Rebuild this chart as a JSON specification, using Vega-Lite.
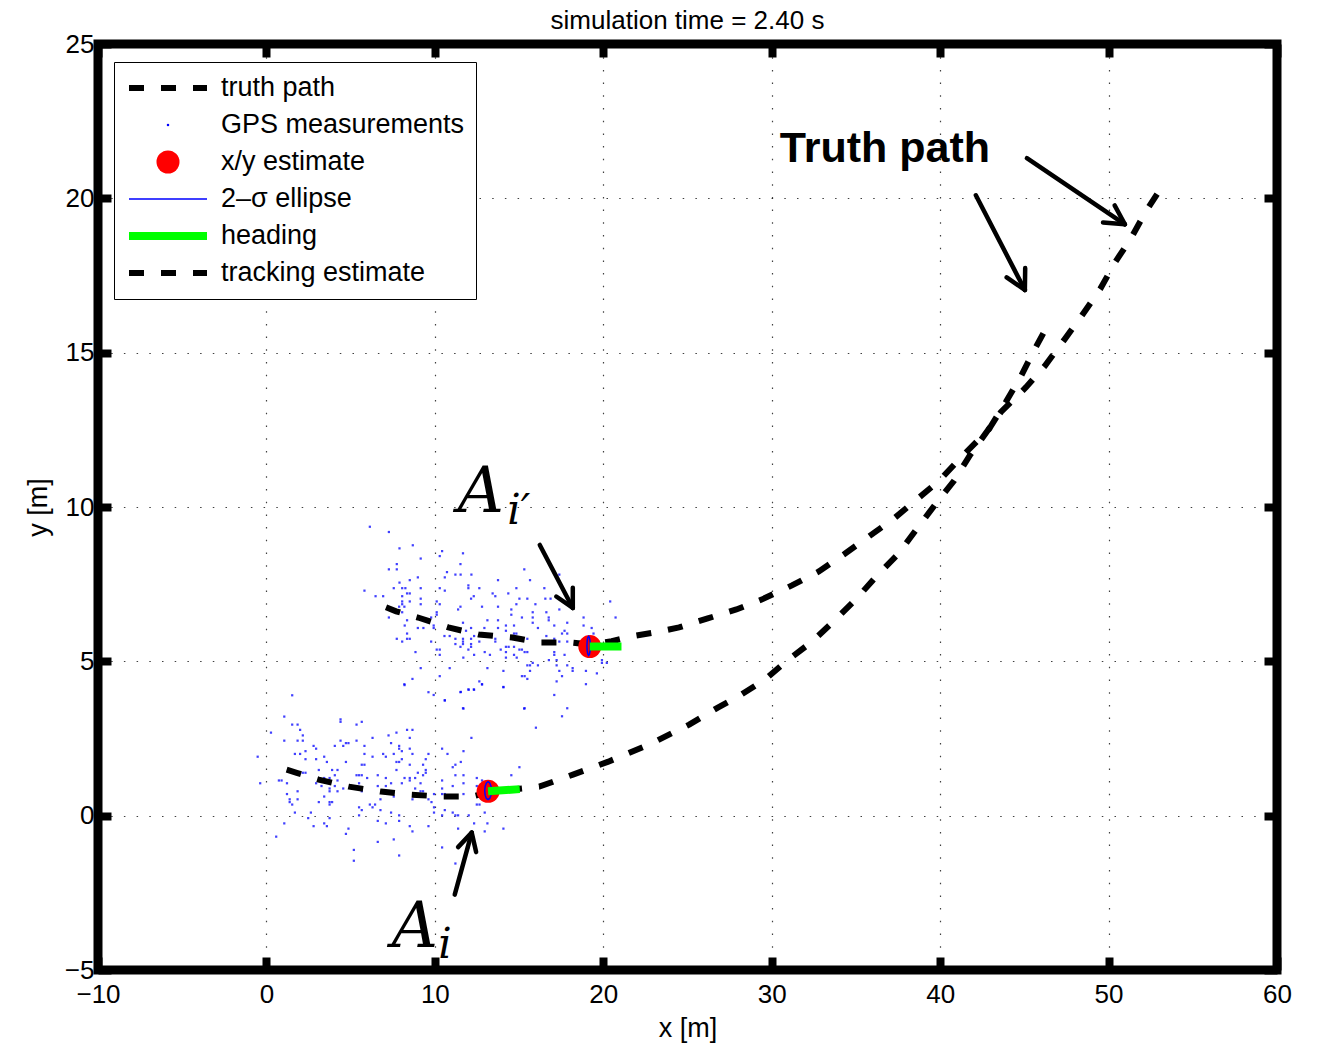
{
  "$schema": "https://vega.github.io/schema/vega-lite/v6.json",
  "autosize": {"type": "none"},
  "padding": {"left": 98, "top": 44, "right": 40, "bottom": 73},
  "width": 1179,
  "height": 926,
  "background": "white",
  "title": {"text": "simulation time = 2.40 s", "font": "Liberation Sans", "fontSize": 26, "fontWeight": "normal", "color": "#000000", "offset": -3, "anchor": "middle"},
  "datasets": {
    "gps": [
      {"x":6.14,"y":9.36},{"x":7.27,"y":9.19},{"x":8.69,"y":8.76},{"x":7.90,"y":8.66},{"x":9.16,"y":8.33},{"x":7.74,"y":8.15},{"x":7.27,"y":7.98},{"x":7.74,"y":7.98},{"x":8.99,"y":7.72},{"x":7.90,"y":7.55},{"x":8.51,"y":7.63},{"x":5.82,"y":7.29},{"x":7.56,"y":7.37},{"x":8.06,"y":7.37},{"x":8.25,"y":7.37},{"x":9.16,"y":7.37},{"x":8.35,"y":7.20},{"x":8.51,"y":7.20},{"x":6.48,"y":7.11},{"x":6.93,"y":7.11},{"x":8.06,"y":7.11},{"x":8.06,"y":6.94},{"x":8.51,"y":6.94},{"x":9.16,"y":7.03},{"x":8.06,"y":6.85},{"x":7.88,"y":6.77},{"x":8.19,"y":6.77},{"x":9.16,"y":6.85},{"x":8.06,"y":6.59},{"x":8.35,"y":6.33},{"x":7.27,"y":6.42},{"x":8.21,"y":6.16},{"x":8.99,"y":6.08},{"x":9.32,"y":6.08},{"x":8.35,"y":5.90},{"x":7.74,"y":5.73},{"x":8.35,"y":5.73},{"x":8.51,"y":5.73},{"x":8.06,"y":5.64},{"x":8.85,"y":5.30},{"x":9.16,"y":4.78},{"x":8.67,"y":4.43},{"x":8.19,"y":4.26},{"x":9.62,"y":4.00},{"x":9.93,"y":3.91},{"x":10.43,"y":8.57},{"x":10.29,"y":8.41},{"x":10.72,"y":7.89},{"x":10.59,"y":7.72},{"x":10.59,"y":7.29},{"x":10.29,"y":7.37},{"x":10.11,"y":6.94},{"x":10.29,"y":6.85},{"x":10.11,"y":6.59},{"x":10.11,"y":6.51},{"x":9.78,"y":6.42},{"x":9.93,"y":6.16},{"x":9.93,"y":6.08},{"x":10.57,"y":5.82},{"x":10.88,"y":5.82},{"x":9.78,"y":5.64},{"x":10.11,"y":5.38},{"x":10.29,"y":5.38},{"x":10.29,"y":5.21},{"x":10.88,"y":4.78},{"x":10.29,"y":4.52},{"x":10.59,"y":3.74},
      {"x":11.67,"y":8.50},{"x":11.52,"y":8.15},{"x":11.22,"y":7.81},{"x":11.53,"y":7.81},{"x":12.17,"y":7.81},{"x":15.31,"y":7.98},{"x":13.75,"y":7.63},{"x":15.65,"y":7.63},{"x":11.99,"y":7.46},{"x":11.99,"y":7.37},{"x":12.64,"y":7.37},{"x":14.84,"y":7.37},{"x":13.43,"y":7.20},{"x":14.36,"y":7.20},{"x":12.31,"y":7.11},{"x":13.59,"y":7.11},{"x":12.15,"y":7.03},{"x":15.02,"y":7.03},{"x":15.49,"y":7.03},{"x":14.84,"y":6.85},{"x":15.97,"y":6.85},{"x":11.52,"y":6.77},{"x":11.38,"y":6.68},{"x":12.80,"y":6.77},{"x":13.75,"y":6.77},{"x":14.54,"y":6.68},{"x":15.81,"y":6.59},{"x":14.54,"y":6.51},{"x":15.17,"y":6.42},{"x":15.81,"y":6.42},{"x":13.12,"y":6.33},{"x":13.75,"y":6.33},{"x":15.81,"y":6.25},{"x":11.67,"y":6.25},{"x":14.22,"y":6.16},{"x":14.70,"y":6.16},{"x":12.15,"y":6.08},{"x":12.94,"y":6.08},{"x":13.75,"y":6.08},{"x":16.12,"y":6.08},{"x":14.22,"y":5.99},{"x":11.85,"y":5.99},{"x":14.70,"y":5.90},{"x":14.84,"y":5.90},{"x":12.33,"y":5.82},{"x":11.22,"y":5.73},{"x":11.67,"y":5.73},{"x":12.15,"y":5.73},{"x":12.64,"y":5.64},{"x":13.59,"y":5.73},{"x":13.59,"y":5.64},{"x":15.49,"y":5.73},{"x":11.22,"y":5.56},{"x":11.67,"y":5.64},{"x":11.67,"y":5.56},{"x":12.15,"y":5.56},{"x":11.52,"y":5.47},{"x":12.15,"y":5.47},{"x":11.99,"y":5.38},{"x":14.22,"y":5.47},{"x":14.38,"y":5.47},{"x":14.70,"y":5.47},{"x":13.91,"y":5.38},{"x":15.02,"y":5.38},{"x":15.17,"y":5.38},{"x":12.96,"y":5.30},{"x":14.22,"y":5.30},{"x":15.33,"y":5.30},{"x":15.49,"y":5.30},{"x":12.33,"y":5.21},{"x":13.27,"y":5.21},{"x":14.22,"y":5.12},{"x":14.70,"y":5.21},{"x":14.86,"y":5.12},{"x":11.69,"y":5.12},{"x":15.81,"y":4.95},{"x":15.65,"y":4.87},{"x":16.12,"y":4.87},{"x":13.12,"y":4.78},{"x":15.49,"y":4.87},{"x":14.07,"y":4.69},{"x":15.65,"y":4.69},{"x":15.17,"y":4.52},{"x":15.33,"y":4.52},{"x":15.49,"y":4.43},{"x":12.64,"y":4.35},{"x":12.80,"y":4.26},{"x":14.07,"y":4.17},{"x":11.52,"y":4.00},{"x":11.99,"y":4.09},{"x":12.31,"y":4.09},{"x":11.67,"y":3.48},{"x":15.33,"y":3.48},
      {"x":17.39,"y":7.81},{"x":16.50,"y":7.37},{"x":16.56,"y":7.03},{"x":16.87,"y":7.03},{"x":20.41,"y":6.94},{"x":17.39,"y":6.68},{"x":16.62,"y":6.59},{"x":16.76,"y":6.42},{"x":16.76,"y":6.33},{"x":18.83,"y":6.42},{"x":20.73,"y":6.42},{"x":17.86,"y":6.25},{"x":17.09,"y":6.16},{"x":18.83,"y":6.16},{"x":19.31,"y":6.08},{"x":17.70,"y":5.99},{"x":17.55,"y":5.90},{"x":17.86,"y":5.90},{"x":19.42,"y":5.90},{"x":16.62,"y":5.82},{"x":17.09,"y":5.73},{"x":17.39,"y":5.64},{"x":17.86,"y":5.64},{"x":17.09,"y":5.30},{"x":17.09,"y":5.21},{"x":17.70,"y":5.21},{"x":16.77,"y":5.04},{"x":17.23,"y":5.04},{"x":19.92,"y":5.04},{"x":17.23,"y":4.87},{"x":17.86,"y":4.87},{"x":18.18,"y":4.78},{"x":19.92,"y":4.95},{"x":20.21,"y":4.95},{"x":17.39,"y":4.69},{"x":18.18,"y":4.69},{"x":18.97,"y":4.69},{"x":17.55,"y":4.52},{"x":19.62,"y":4.61},{"x":17.23,"y":4.35},{"x":18.97,"y":4.26},{"x":17.09,"y":3.91},{"x":17.86,"y":3.48},{"x":17.55,"y":3.22},
      {"x":1.53,"y":3.90},{"x":1.06,"y":3.21},{"x":1.53,"y":2.95},{"x":1.85,"y":2.95},{"x":2.00,"y":2.78},{"x":0.27,"y":2.69},{"x":2.16,"y":2.60},{"x":1.06,"y":2.43},{"x":1.85,"y":2.43},{"x":2.16,"y":2.43},{"x":2.80,"y":2.26},{"x":4.06,"y":2.26},{"x":2.95,"y":2.17},{"x":2.32,"y":2.09},{"x":1.69,"y":2.00},{"x":2.00,"y":2.00},{"x":-0.52,"y":1.91},{"x":3.43,"y":1.91},{"x":2.32,"y":1.83},{"x":2.95,"y":1.83},{"x":3.59,"y":1.74},{"x":3.90,"y":1.48},{"x":4.22,"y":1.48},{"x":3.11,"y":1.48},{"x":2.16,"y":1.39},{"x":2.32,"y":1.39},{"x":4.06,"y":1.31},{"x":3.43,"y":1.22},{"x":3.75,"y":1.22},{"x":4.22,"y":1.14},{"x":0.90,"y":1.14},{"x":0.74,"y":1.14},{"x":-0.37,"y":1.05},{"x":1.22,"y":1.05},{"x":2.95,"y":1.05},{"x":3.27,"y":0.96},{"x":4.06,"y":0.96},{"x":3.75,"y":0.88},{"x":1.85,"y":0.79},{"x":3.75,"y":0.79},{"x":4.22,"y":0.79},{"x":1.22,"y":0.70},{"x":3.43,"y":0.62},{"x":1.38,"y":0.53},{"x":1.85,"y":0.53},{"x":3.75,"y":0.44},{"x":3.90,"y":0.44},{"x":3.11,"y":0.44},{"x":1.38,"y":0.44},{"x":1.53,"y":0.36},{"x":3.75,"y":0.36},{"x":1.69,"y":0.10},{"x":2.64,"y":0.10},{"x":2.48,"y":-0.08},{"x":3.75,"y":-0.08},{"x":1.06,"y":-0.25},{"x":3.43,"y":-0.25},{"x":2.80,"y":-0.34},{"x":3.59,"y":-0.34},{"x":0.58,"y":-0.68},
      {"x":8.20,"y":4.23},{"x":4.40,"y":3.12},{"x":4.40,"y":3.04},{"x":5.66,"y":3.04},{"x":5.35,"y":2.95},{"x":8.35,"y":2.78},{"x":8.67,"y":2.78},{"x":7.25,"y":2.60},{"x":7.72,"y":2.69},{"x":6.30,"y":2.52},{"x":8.51,"y":2.52},{"x":4.40,"y":2.43},{"x":5.35,"y":2.43},{"x":7.40,"y":2.35},{"x":4.72,"y":2.35},{"x":4.87,"y":2.35},{"x":4.56,"y":2.26},{"x":5.82,"y":2.26},{"x":7.88,"y":2.26},{"x":7.88,"y":2.17},{"x":8.51,"y":2.17},{"x":8.04,"y":2.09},{"x":5.82,"y":2.00},{"x":6.93,"y":2.00},{"x":7.56,"y":2.00},{"x":8.67,"y":2.00},{"x":6.30,"y":1.91},{"x":7.09,"y":1.91},{"x":9.62,"y":2.00},{"x":8.04,"y":1.83},{"x":4.72,"y":1.74},{"x":7.72,"y":1.74},{"x":7.88,"y":1.74},{"x":9.46,"y":1.83},{"x":8.51,"y":1.65},{"x":5.66,"y":1.65},{"x":5.82,"y":1.65},{"x":9.30,"y":1.65},{"x":9.46,"y":1.48},{"x":7.72,"y":1.48},{"x":8.99,"y":1.39},{"x":9.46,"y":1.39},{"x":9.30,"y":1.31},{"x":5.35,"y":1.31},{"x":5.50,"y":1.31},{"x":5.66,"y":1.31},{"x":6.61,"y":1.31},{"x":5.98,"y":1.22},{"x":7.09,"y":1.22},{"x":8.20,"y":1.22},{"x":8.51,"y":1.22},{"x":8.83,"y":1.22},{"x":8.51,"y":1.14},{"x":9.15,"y":1.05},{"x":7.40,"y":1.05},{"x":8.04,"y":1.05},{"x":5.50,"y":1.05},{"x":6.61,"y":0.96},{"x":7.09,"y":0.96},{"x":4.56,"y":0.88},{"x":5.19,"y":0.88},{"x":5.66,"y":0.79},{"x":8.83,"y":0.88},{"x":9.15,"y":0.79},{"x":9.30,"y":0.79},{"x":9.62,"y":0.53},{"x":8.67,"y":0.53},{"x":7.56,"y":0.62},{"x":6.77,"y":0.53},{"x":5.50,"y":0.27},{"x":6.14,"y":0.36},{"x":6.45,"y":0.36},{"x":6.30,"y":0.27},{"x":5.66,"y":0.18},{"x":6.77,"y":0.18},{"x":7.40,"y":0.10},{"x":5.50,"y":0.01},{"x":7.88,"y":0.01},{"x":6.61,"y":-0.17},{"x":7.88,"y":-0.17},{"x":7.09,"y":-0.25},{"x":8.51,"y":-0.34},{"x":4.87,"y":-0.42},{"x":8.67,"y":-0.51},{"x":4.72,"y":-0.59},{"x":9.62,"y":-0.34},{"x":7.56,"y":-0.77},{"x":6.61,"y":-0.85},{"x":5.19,"y":-1.11},{"x":7.88,"y":-1.29},{"x":5.19,"y":-1.46},
      {"x":11.54,"y":4.01},{"x":12.01,"y":4.08},{"x":12.33,"y":4.08},{"x":12.80,"y":4.25},{"x":14.07,"y":4.16},{"x":10.59,"y":3.73},{"x":11.70,"y":3.47},{"x":12.17,"y":2.52},{"x":10.43,"y":2.17},{"x":10.75,"y":2.00},{"x":11.70,"y":2.09},{"x":11.54,"y":1.74},{"x":11.22,"y":1.65},{"x":11.06,"y":1.57},{"x":15.02,"y":1.57},{"x":11.22,"y":1.31},{"x":11.70,"y":1.31},{"x":14.54,"y":1.31},{"x":10.43,"y":1.14},{"x":11.70,"y":1.05},{"x":12.49,"y":1.22},{"x":12.80,"y":1.14},{"x":11.06,"y":0.96},{"x":10.43,"y":0.88},{"x":12.49,"y":0.96},{"x":10.43,"y":0.70},{"x":10.59,"y":0.70},{"x":9.95,"y":0.70},{"x":11.70,"y":0.70},{"x":9.80,"y":0.44},{"x":9.95,"y":0.27},{"x":10.59,"y":0.18},{"x":11.06,"y":0.10},{"x":9.95,"y":0.10},{"x":10.43,"y":0.01},{"x":11.22,"y":0.01},{"x":11.38,"y":0.01},{"x":12.65,"y":0.36},{"x":12.49,"y":0.36},{"x":12.01,"y":0.01},{"x":12.96,"y":0.10},{"x":12.33,"y":-0.25},{"x":13.12,"y":-0.25},{"x":11.38,"y":-0.42},{"x":12.96,"y":-0.51},{"x":14.07,"y":-0.42},{"x":10.43,"y":-1.03},{"x":12.01,"y":-1.03},{"x":11.22,"y":-1.55},{"x":16.0,"y":2.85},{"x":15.3,"y":3.47}
    ],
    "tracks": [
      {"t":"i2","x":7.1,"y":6.75},{"t":"i2","x":7.7,"y":6.62},{"t":"i2","x":9.0,"y":6.42},{"t":"i2","x":10.8,"y":6.1},{"t":"i2","x":12.6,"y":5.87},{"t":"i2","x":14.6,"y":5.77},{"t":"i2","x":16.3,"y":5.61},{"t":"i2","x":18.1,"y":5.61},{"t":"i2","x":19.1,"y":5.55},{"t":"i2","x":20.5,"y":5.65},{"t":"i2","x":21.7,"y":5.81},{"t":"i2","x":23.1,"y":5.94},{"t":"i2","x":24.5,"y":6.1},{"t":"i2","x":26.2,"y":6.39},{"t":"i2","x":27.9,"y":6.68},{"t":"i2","x":29.4,"y":7.0},{"t":"i2","x":31.2,"y":7.46},{"t":"i2","x":32.8,"y":7.91},{"t":"i2","x":34.3,"y":8.47},{"t":"i2","x":35.7,"y":9.02},{"t":"i2","x":37.2,"y":9.6},{"t":"i2","x":38.4,"y":10.15},{"t":"i2","x":39.9,"y":10.83},{"t":"i2","x":41.3,"y":11.64},{"t":"i2","x":42.9,"y":12.52},{"t":"i2","x":43.9,"y":13.4},{"t":"i2","x":44.8,"y":14.24},{"t":"i2","x":45.6,"y":15.1},{"t":"i2","x":46.5,"y":16.0},
      {"t":"i1","x":1.2,"y":1.49},{"t":"i1","x":1.8,"y":1.39},{"t":"i1","x":3.1,"y":1.17},{"t":"i1","x":4.9,"y":0.94},{"t":"i1","x":6.8,"y":0.78},{"t":"i1","x":8.6,"y":0.68},{"t":"i1","x":10.4,"y":0.62},{"t":"i1","x":12.2,"y":0.62},{"t":"i1","x":13.2,"y":0.75},{"t":"i1","x":14.6,"y":0.85},{"t":"i1","x":16.2,"y":0.94},{"t":"i1","x":18.2,"y":1.33},{"t":"i1","x":20.3,"y":1.75},{"t":"i1","x":22.7,"y":2.3},{"t":"i1","x":25.1,"y":2.95},{"t":"i1","x":26.8,"y":3.5},{"t":"i1","x":28.0,"y":3.86},{"t":"i1","x":29.6,"y":4.41},{"t":"i1","x":31.0,"y":5.06},{"t":"i1","x":32.4,"y":5.64},{"t":"i1","x":33.8,"y":6.36},{"t":"i1","x":35.1,"y":7.07},{"t":"i1","x":36.2,"y":7.75},{"t":"i1","x":37.5,"y":8.47},{"t":"i1","x":38.6,"y":9.28},{"t":"i1","x":39.8,"y":10.15},{"t":"i1","x":40.8,"y":10.83},{"t":"i1","x":41.8,"y":11.7},{"t":"i1","x":43.6,"y":13.07},{"t":"i1","x":45.1,"y":13.88},{"t":"i1","x":46.2,"y":14.56},{"t":"i1","x":47.4,"y":15.44},{"t":"i1","x":48.4,"y":16.19},{"t":"i1","x":49.5,"y":17.06},{"t":"i1","x":50.4,"y":17.94},{"t":"i1","x":51.3,"y":18.68},{"t":"i1","x":52.2,"y":19.56},{"t":"i1","x":53.0,"y":20.24}
    ],
    "est": [{"x":19.2,"y":5.48},{"x":13.16,"y":0.79}],
    "ell": [
      {"e":"a","k":0,"x":19.23,"y":5.5},{"e":"a","k":1,"x":19.217,"y":5.655},{"e":"a","k":2,"x":19.18,"y":5.768},{"e":"a","k":3,"x":19.13,"y":5.81},{"e":"a","k":4,"x":19.08,"y":5.768},{"e":"a","k":5,"x":19.043,"y":5.655},{"e":"a","k":6,"x":19.03,"y":5.5},{"e":"a","k":7,"x":19.043,"y":5.345},{"e":"a","k":8,"x":19.08,"y":5.232},{"e":"a","k":9,"x":19.13,"y":5.19},{"e":"a","k":10,"x":19.18,"y":5.232},{"e":"a","k":11,"x":19.217,"y":5.345},{"e":"a","k":12,"x":19.23,"y":5.5},
      {"e":"b","k":0,"x":13.36,"y":0.81},{"e":"b","k":1,"x":13.333,"y":0.955},{"e":"b","k":2,"x":13.26,"y":1.061},{"e":"b","k":3,"x":13.16,"y":1.10},{"e":"b","k":4,"x":13.06,"y":1.061},{"e":"b","k":5,"x":12.987,"y":0.955},{"e":"b","k":6,"x":12.96,"y":0.81},{"e":"b","k":7,"x":12.987,"y":0.665},{"e":"b","k":8,"x":13.06,"y":0.559},{"e":"b","k":9,"x":13.16,"y":0.52},{"e":"b","k":10,"x":13.26,"y":0.559},{"e":"b","k":11,"x":13.333,"y":0.665},{"e":"b","k":12,"x":13.36,"y":0.81}
    ],
    "head": [{"x":19.2,"y":5.48,"x2":21.08,"y2":5.48},{"x":13.16,"y":0.79,"x2":15.04,"y2":0.86}],
    "arrows": [
      {"x":45.15,"y":21.30,"x2":50.97,"y2":19.16},{"x":50.97,"y":19.16,"x2":50.36,"y2":19.77},{"x":50.97,"y":19.16,"x2":49.67,"y2":19.22},
      {"x":42.12,"y":20.10,"x2":45.03,"y2":17.03},{"x":45.03,"y":17.03,"x2":45.05,"y2":17.74},{"x":45.03,"y":17.03,"x2":43.95,"y2":17.44},
      {"x":16.23,"y":8.77,"x2":18.19,"y2":6.73},{"x":18.19,"y":6.73,"x2":18.19,"y2":7.38},{"x":18.19,"y":6.73,"x2":17.21,"y2":7.10},
      {"x":11.18,"y":-2.56,"x2":12.19,"y2":-0.55},{"x":12.19,"y":-0.55,"x2":11.38,"y2":-1.02},{"x":12.19,"y":-0.55,"x2":12.45,"y2":-1.18}
    ],
    "words": [{"x":30.48,"y":21.18,"t":"Truth path"}],
    "bigA": [{"x":11.36,"y":9.84,"t":"A"},{"x":7.44,"y":-4.27,"t":"A"}],
    "subs": [{"x":14.3,"y":9.45,"t":"i′"},{"x":10.2,"y":-4.60,"t":"i"}]
  },
  "encoding": {
    "x": {"field": "x", "type": "quantitative", "scale": {"domain": [-10, 60], "nice": false, "zero": false}, "axis": null},
    "y": {"field": "y", "type": "quantitative", "scale": {"domain": [-5, 25], "nice": false, "zero": false}, "axis": null}
  },
  "resolve": {"axis": {"x": "independent", "y": "independent"}},
  "layer": [
    {
      "data": {"name": "gps"},
      "mark": {"type": "point", "filled": true, "opacity": 0.75},
      "encoding": {
        "x": {"field": "x", "type": "quantitative", "scale": {"domain": [-10, 60], "nice": false, "zero": false},
          "axis": {"orient": "bottom", "values": [-10, 0, 10, 20, 30, 40, 50, 60], "grid": true, "gridColor": "#000000", "gridOpacity": 0.75, "gridWidth": 1.2, "gridDash": [1.5, 11.2], "domain": false, "ticks": true, "tickSize": -13, "tickWidth": 8, "tickColor": "#000000", "labelFont": "Liberation Sans", "labelFontSize": 26, "labelColor": "#000000", "labelPadding": 24, "labelFlush": false, "labelOverlap": false, "title": "x [m]", "titleFont": "Liberation Sans", "titleFontSize": 27, "titleFontWeight": "normal", "titleColor": "#000000", "titlePadding": 8}},
        "y": {"field": "y", "type": "quantitative", "scale": {"domain": [-5, 25], "nice": false, "zero": false},
          "axis": {"orient": "left", "values": [-5, 0, 5, 10, 15, 20, 25], "grid": true, "gridColor": "#000000", "gridOpacity": 0.75, "gridWidth": 1.2, "gridDash": [1.5, 11.2], "domain": false, "ticks": true, "tickSize": -13, "tickWidth": 8, "tickColor": "#000000", "labelFont": "Liberation Sans", "labelFontSize": 26, "labelColor": "#000000", "labelPadding": 17, "labelFlush": false, "labelOverlap": false, "title": "y [m]", "titleFont": "Liberation Sans", "titleFontSize": 27, "titleFontWeight": "normal", "titleColor": "#000000", "titlePadding": 12}},
        "color": {"datum": "GPS measurements", "type": "nominal",
          "scale": {"domain": ["truth path", "GPS measurements", "x/y estimate", "2–σ ellipse", "heading", "tracking estimate"], "range": ["#000000", "#0000ff", "#ff0000", "#0000ff", "#00ff00", "#000000"]},
          "legend": {"orient": "none", "legendX": 16, "legendY": 18, "title": null, "fillColor": "white", "strokeColor": "black", "padding": 11,
            "labelFont": "Liberation Sans", "labelFontSize": 27, "labelColor": "#000000", "labelLimit": 400, "labelOffset": 10,
            "symbolOpacity": 1, "clipHeight": 30, "rowPadding": 7}},
        "shape": {"datum": "GPS measurements", "type": "nominal",
          "scale": {"domain": ["truth path", "GPS measurements", "x/y estimate", "2–σ ellipse", "heading", "tracking estimate"], "range": ["stroke", "square", "circle", "stroke", "stroke", "stroke"]}},
        "size": {"datum": "GPS measurements", "type": "nominal",
          "scale": {"type": "ordinal", "domain": ["truth path", "GPS measurements", "x/y estimate", "2–σ ellipse", "heading", "tracking estimate"], "range": [6084, 5, 530, 6084, 6084, 6084]}}
      }
    },
    {
      "data": {"name": "tracks"},
      "mark": {"type": "line"},
      "encoding": {
        "detail": {"field": "t"},
        "color": {"datum": "tracking estimate", "type": "nominal",
          "scale": {"domain": ["truth path", "GPS measurements", "x/y estimate", "2–σ ellipse", "heading", "tracking estimate"], "range": ["#000000", "#0000ff", "#ff0000", "#0000ff", "#00ff00", "#000000"]}},
        "strokeDash": {"datum": "tracking estimate", "type": "nominal",
          "scale": {"domain": ["truth path", "GPS measurements", "x/y estimate", "2–σ ellipse", "heading", "tracking estimate"], "range": [[15, 17], [1, 0], [1, 0], [1, 0], [1, 0], [15, 17]]}},
        "strokeWidth": {"datum": "tracking estimate", "type": "nominal",
          "scale": {"type": "ordinal", "domain": ["truth path", "GPS measurements", "x/y estimate", "2–σ ellipse", "heading", "tracking estimate"], "range": [6, 0, 0, 1.5, 8, 6]}}
      }
    },
    {
      "data": {"name": "est"},
      "mark": {"type": "point", "filled": true, "opacity": 1},
      "encoding": {
        "x": {"field": "x", "type": "quantitative", "scale": {"domain": [-10, 60], "nice": false, "zero": false},
          "axis": {"orient": "top", "values": [-10, 0, 10, 20, 30, 40, 50, 60], "grid": false, "domain": false, "labels": false, "ticks": true, "tickSize": -13, "tickWidth": 8, "tickColor": "#000000", "title": null}},
        "y": {"field": "y", "type": "quantitative", "scale": {"domain": [-5, 25], "nice": false, "zero": false},
          "axis": {"orient": "right", "values": [-5, 0, 5, 10, 15, 20, 25], "grid": false, "domain": false, "labels": false, "ticks": true, "tickSize": -13, "tickWidth": 8, "tickColor": "#000000", "title": null}},
        "color": {"datum": "x/y estimate", "type": "nominal",
          "scale": {"domain": ["truth path", "GPS measurements", "x/y estimate", "2–σ ellipse", "heading", "tracking estimate"], "range": ["#000000", "#0000ff", "#ff0000", "#0000ff", "#00ff00", "#000000"]}},
        "shape": {"datum": "x/y estimate", "type": "nominal",
          "scale": {"domain": ["truth path", "GPS measurements", "x/y estimate", "2–σ ellipse", "heading", "tracking estimate"], "range": ["stroke", "square", "circle", "stroke", "stroke", "stroke"]}},
        "size": {"datum": "x/y estimate", "type": "nominal",
          "scale": {"type": "ordinal", "domain": ["truth path", "GPS measurements", "x/y estimate", "2–σ ellipse", "heading", "tracking estimate"], "range": [6084, 5, 530, 6084, 6084, 6084]}}
      }
    },
    {
      "data": {"name": "ell"},
      "mark": {"type": "line"},
      "encoding": {
        "detail": {"field": "e"},
        "order": {"field": "k", "type": "quantitative"},
        "color": {"datum": "2–σ ellipse", "type": "nominal",
          "scale": {"domain": ["truth path", "GPS measurements", "x/y estimate", "2–σ ellipse", "heading", "tracking estimate"], "range": ["#000000", "#0000ff", "#ff0000", "#0000ff", "#00ff00", "#000000"]}},
        "strokeWidth": {"datum": "2–σ ellipse", "type": "nominal",
          "scale": {"type": "ordinal", "domain": ["truth path", "GPS measurements", "x/y estimate", "2–σ ellipse", "heading", "tracking estimate"], "range": [6, 0, 0, 1.5, 8, 6]}}
      }
    },
    {
      "data": {"name": "head"},
      "mark": {"type": "rule"},
      "encoding": {
        "x2": {"field": "x2"},
        "y2": {"field": "y2"},
        "color": {"datum": "heading", "type": "nominal",
          "scale": {"domain": ["truth path", "GPS measurements", "x/y estimate", "2–σ ellipse", "heading", "tracking estimate"], "range": ["#000000", "#0000ff", "#ff0000", "#0000ff", "#00ff00", "#000000"]}},
        "strokeWidth": {"datum": "heading", "type": "nominal",
          "scale": {"type": "ordinal", "domain": ["truth path", "GPS measurements", "x/y estimate", "2–σ ellipse", "heading", "tracking estimate"], "range": [6, 0, 0, 1.5, 8, 6]}}
      }
    },
    {
      "data": {"name": "arrows"},
      "mark": {"type": "rule", "strokeWidth": 4.5, "color": "#000000", "strokeCap": "round"},
      "encoding": {"x2": {"field": "x2"}, "y2": {"field": "y2"}}
    },
    {
      "data": {"name": "words"},
      "mark": {"type": "text", "font": "Liberation Sans", "fontSize": 43, "fontWeight": "bold", "align": "left", "baseline": "alphabetic", "color": "#000000"},
      "encoding": {"text": {"field": "t"}}
    },
    {
      "data": {"name": "bigA"},
      "mark": {"type": "text", "font": "DejaVu Serif", "fontSize": 64, "fontStyle": "italic", "align": "left", "baseline": "alphabetic", "color": "#000000"},
      "encoding": {"text": {"field": "t"}}
    },
    {
      "data": {"name": "subs"},
      "mark": {"type": "text", "font": "DejaVu Serif", "fontSize": 42, "fontStyle": "italic", "align": "left", "baseline": "alphabetic", "color": "#000000"},
      "encoding": {"text": {"field": "t"}}
    }
  ],
  "config": {"view": {"stroke": "#000000", "strokeWidth": 9}}
}
